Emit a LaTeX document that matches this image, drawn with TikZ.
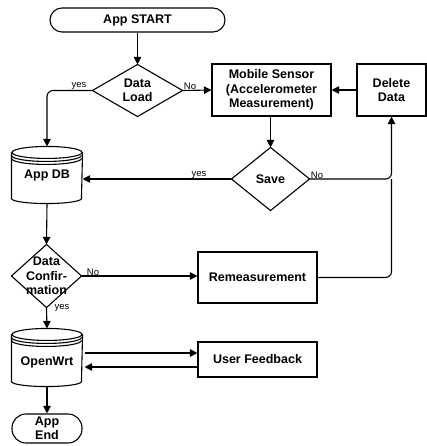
\documentclass[tikz,border=0pt]{standalone}
\usepackage{fontspec}
\setmainfont{Liberation Sans}
\usetikzlibrary{arrows.meta,calc}

\begin{document}
\begin{tikzpicture}[x=1pt,y=-1pt,line width=1.1pt,
  every node/.style={font=\bfseries\fontsize{12.5}{14.5}\selectfont,align=center,inner sep=0pt},
  term/.style={draw,rounded corners=12pt,minimum height=24pt},
  proc/.style={draw,minimum width=119pt,minimum height=52pt},
  store/.style={minimum width=70pt,minimum height=56pt},
  lbl/.style={font=\fontsize{9.5}{10}\selectfont},
  arr/.style={-{Triangle[length=7.5pt,width=7.5pt]}}]
\useasboundingbox[fill=white] (0,0) rectangle (427,446);

% terminals
\node[term,minimum width=175pt] (start) at (137.5,20) {App START};
\node[term,minimum width=70pt,minimum height=29pt,rounded corners=14pt] (end) at (47,428.5) {App\\End};

% process boxes
\node[proc] (ms) at (271.5,90) {Mobile Sensor\\(Accelerometer\\Measurement)};
\node[proc,minimum width=69pt] (dd) at (391.5,90) {Delete\\Data};
\node[proc,minimum height=51pt] (rem) at (257.5,277.5) {Remeasurement};
\node[proc,minimum height=35pt] (uf) at (257.5,359.5) {User Feedback};

% decisions (outline drawn below)
\node[minimum width=89pt,minimum height=51pt] (dl) at (137.5,90.5) {Data\\Load};
\node[minimum width=77pt,minimum height=62pt] (sv) at (270.5,179) {Save};
\node[minimum width=69pt,minimum height=62pt] (dc) at (46.5,276) {Data\\Confir-\\mation};
\foreach \n in {dl,sv,dc}
  \draw (\n.north) -- (\n.east) -- (\n.south) -- (\n.west) -- cycle;

% data stores
\node[store] (db) at (47,175) {App DB};
\node[store,minimum height=57pt,label={[yshift=-5pt]center:OpenWrt}] (ow) at (47,357.5) {};
\foreach \n in {db,ow}{
  \draw ([yshift=-6pt]\n.north west) -- ([yshift=5pt]\n.south west)
    arc[start angle=180,end angle=360,x radius=35pt,y radius=5pt]
    -- ([yshift=-6pt]\n.north east);
  \draw ([yshift=-6pt]\n.north) ellipse[x radius=35pt,y radius=6pt];
  \draw ([yshift=-9pt]\n.north west) arc[start angle=180,end angle=360,x radius=35pt,y radius=6pt];
  \draw ([yshift=-12pt]\n.north west) arc[start angle=180,end angle=360,x radius=35pt,y radius=6pt];
}

% connectors
\draw[arr] (start) -- (dl);
\draw[arr] (dl.east) -- (ms.west);
\draw[arr,rounded corners=6pt] (dl.west) -| (db.north);
\draw[arr] (dd.west) -- (ms.east);
\draw[arr] (ms.south -| sv.north) -- (sv.north);
\draw[arr] (sv.west) -- (sv.west -| db.east);
\draw[arr,rounded corners=6pt] (sv.east) -| (dd.south);
\draw[rounded corners=6pt] (rem.east) -| (sv.east -| dd.south);
\draw[arr] (db.south) -- (dc.north);
\draw[arr] (dc.east) -- (dc.east -| rem.west);
\draw[arr] (dc.south) -- (ow.north);
\draw[arr] ([xshift=2pt,yshift=4.5pt]ow.east) -- ([yshift=4.5pt]ow.east -| uf.west);
\draw[arr] ([yshift=-9.5pt]ow.east -| uf.west) -- ([xshift=2pt,yshift=-9.5pt]ow.east);
\draw[arr] (ow.south) -- (end.north);

% branch labels
\node[lbl] (ly1) at (79,86) {yes};
\node[lbl] (ln1) at (190,86.5) {No};
\node[lbl] (ly2) at (199,175) {yes};
\node[lbl] (ln2) at (317,175.5) {No};
\node[lbl] (ln3) at (93,272.5) {No};
\node[lbl] (ly3) at (62,308) {yes};
\end{tikzpicture}
\end{document}
